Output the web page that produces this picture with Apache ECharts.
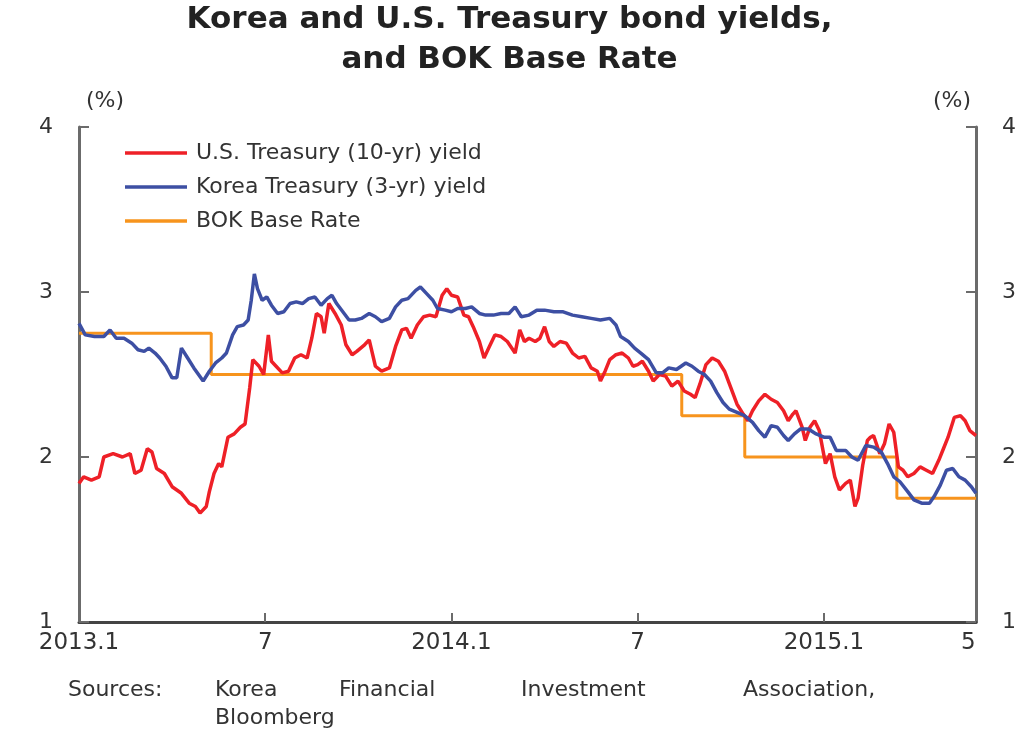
<!DOCTYPE html>
<html>
<head>
<meta charset="utf-8">
<script src="https://cdn.jsdelivr.net/npm/echarts@6/dist/echarts.min.js"></script>
<style>
html,body{margin:0;padding:0;background:#fff;}
#chart{width:1019px;height:732px;}
</style>
</head>
<body>
<div id="chart"></div>
<script>
// x positions are months since 2013-01-01 (0 = 2013.1, 12 = 2014.1, 24 = 2015.1)
const titleText = 'Korea and U.S. Treasury bond yields,\nand BOK Base Rate';
const seriesNames = ['U.S. Treasury (10-yr) yield', 'Korea Treasury (3-yr) yield', 'BOK Base Rate'];
const xTickMonths = [0, 6, 12, 18, 24];
const xLabelMonths = [0, 6, 12, 18, 24, 28.65];
const xLabelTexts = ['2013.1', '7', '2014.1', '7', '2015.1', '5'];
const yTicks = [1, 2, 3, 4];

const usMonths = [0,0.15,0.4,0.65,0.8,1.1,1.4,1.65,1.8,2.0,2.2,2.35,2.5,2.75,3.0,3.3,3.55,3.75,3.9,4.1,4.2,4.35,4.5,4.6,4.8,5.0,5.2,5.35,5.5,5.6,5.8,5.95,6.1,6.2,6.35,6.55,6.75,6.95,7.15,7.35,7.5,7.65,7.8,7.9,8.05,8.25,8.45,8.6,8.8,8.95,9.2,9.35,9.55,9.75,10.0,10.2,10.4,10.55,10.7,10.9,11.1,11.3,11.5,11.7,11.85,12.0,12.2,12.4,12.55,12.7,12.9,13.05,13.2,13.4,13.6,13.8,14.05,14.2,14.35,14.5,14.7,14.85,15.0,15.15,15.3,15.5,15.7,15.9,16.1,16.3,16.5,16.7,16.8,16.95,17.1,17.3,17.5,17.7,17.85,18.0,18.15,18.35,18.5,18.7,18.9,19.1,19.3,19.5,19.7,19.85,20.0,20.2,20.4,20.6,20.8,21.0,21.2,21.4,21.55,21.7,21.9,22.1,22.3,22.5,22.7,22.85,23.0,23.1,23.3,23.4,23.55,23.7,23.85,24.05,24.2,24.35,24.5,24.7,24.85,25.0,25.1,25.25,25.4,25.5,25.6,25.8,25.95,26.1,26.25,26.4,26.55,26.7,26.9,27.1,27.3,27.5,27.7,27.85,28.0,28.2,28.4,28.55,28.7,28.9];
const usValues = [1.84,1.88,1.86,1.88,2.00,2.02,2.00,2.02,1.90,1.92,2.05,2.03,1.93,1.90,1.82,1.78,1.72,1.70,1.66,1.70,1.79,1.90,1.96,1.94,2.12,2.14,2.18,2.20,2.42,2.59,2.55,2.50,2.74,2.58,2.55,2.51,2.52,2.60,2.62,2.60,2.72,2.87,2.85,2.75,2.93,2.87,2.80,2.68,2.62,2.64,2.68,2.71,2.55,2.52,2.54,2.67,2.77,2.78,2.72,2.80,2.85,2.86,2.85,2.98,3.02,2.98,2.97,2.86,2.85,2.79,2.70,2.60,2.66,2.74,2.73,2.70,2.63,2.77,2.70,2.72,2.70,2.72,2.79,2.70,2.67,2.70,2.69,2.63,2.60,2.61,2.54,2.52,2.46,2.52,2.59,2.62,2.63,2.60,2.55,2.56,2.58,2.52,2.46,2.50,2.49,2.43,2.46,2.40,2.38,2.36,2.44,2.56,2.60,2.58,2.52,2.42,2.32,2.26,2.22,2.28,2.34,2.38,2.35,2.33,2.28,2.22,2.26,2.28,2.18,2.10,2.18,2.22,2.16,1.96,2.02,1.88,1.80,1.84,1.86,1.70,1.75,1.95,2.10,2.12,2.13,2.02,2.08,2.20,2.15,1.94,1.92,1.88,1.90,1.94,1.92,1.90,1.98,2.05,2.12,2.24,2.25,2.22,2.16,2.13];

const krMonths = [0,0.2,0.5,0.8,1.0,1.2,1.45,1.7,1.9,2.1,2.25,2.45,2.6,2.8,3.0,3.15,3.3,3.5,3.7,3.85,4.0,4.2,4.4,4.6,4.75,4.95,5.1,5.3,5.45,5.55,5.65,5.75,5.9,6.05,6.2,6.4,6.6,6.8,7.0,7.2,7.4,7.6,7.8,8.0,8.15,8.3,8.5,8.7,8.9,9.1,9.35,9.55,9.75,10.0,10.2,10.4,10.6,10.85,11.0,11.2,11.4,11.55,11.8,12.0,12.2,12.45,12.65,12.9,13.1,13.35,13.6,13.85,14.05,14.25,14.5,14.75,15.0,15.3,15.6,15.9,16.2,16.5,16.8,17.1,17.3,17.45,17.7,17.9,18.1,18.35,18.6,18.8,19.0,19.25,19.55,19.75,19.95,20.15,20.35,20.55,20.75,20.95,21.2,21.45,21.7,21.9,22.1,22.3,22.5,22.7,22.85,23.05,23.25,23.5,23.75,24.0,24.2,24.4,24.7,24.9,25.1,25.35,25.6,25.85,26.05,26.25,26.45,26.7,26.9,27.15,27.4,27.55,27.75,27.95,28.15,28.35,28.55,28.75,28.9];
const krValues = [2.81,2.74,2.73,2.73,2.77,2.72,2.72,2.69,2.65,2.64,2.66,2.63,2.60,2.55,2.48,2.48,2.66,2.60,2.54,2.50,2.46,2.52,2.57,2.60,2.63,2.74,2.79,2.80,2.83,2.95,3.11,3.02,2.95,2.97,2.92,2.87,2.88,2.93,2.94,2.93,2.96,2.97,2.92,2.96,2.98,2.93,2.88,2.83,2.83,2.84,2.87,2.85,2.82,2.84,2.91,2.95,2.96,3.01,3.03,2.99,2.95,2.90,2.89,2.88,2.90,2.90,2.91,2.87,2.86,2.86,2.87,2.87,2.91,2.85,2.86,2.89,2.89,2.88,2.88,2.86,2.85,2.84,2.83,2.84,2.80,2.73,2.70,2.66,2.63,2.59,2.51,2.51,2.54,2.53,2.57,2.55,2.52,2.50,2.46,2.39,2.33,2.29,2.27,2.25,2.21,2.16,2.12,2.19,2.18,2.13,2.10,2.14,2.17,2.17,2.14,2.12,2.12,2.04,2.04,2.00,1.98,2.07,2.06,2.03,1.96,1.88,1.85,1.79,1.74,1.72,1.72,1.76,1.83,1.92,1.93,1.88,1.86,1.82,1.78];

const bokMonths = [0, 4.26, 19.42, 21.45, 26.35, 28.9];
const bokValues = [2.75, 2.50, 2.25, 2.00, 1.75, 1.75];

function zip(xs, ys) { return xs.map((x, i) => [x, ys[i]]); }

const FONT = 'DejaVu Sans';
const TXT = '#333333';
const AXIS = '#6b6b6b';

const chart = echarts.init(document.getElementById('chart'), null, {renderer: 'canvas'});

const yAxisCommon = {
  type: 'value', min: 1, max: 4, interval: 1,
  axisLine: {show: true, lineStyle: {color: AXIS, width: 3}},
  axisTick: {show: true, inside: true, length: 10, lineStyle: {color: AXIS, width: 2}},
  splitLine: {show: false},
  axisLabel: {fontFamily: FONT, fontSize: 22, color: TXT, margin: 26}
};

chart.setOption({
  animation: false,
  backgroundColor: '#ffffff',
  grid: {left: 79, right: 42, top: 127, height: 495, containLabel: false},
  xAxis: {
    type: 'value', min: 0, max: 28.9,
    axisLine: {show: true, onZero: false, lineStyle: {color: '#444', width: 3}},
    axisTick: {show: true, inside: true, length: 9, customValues: xTickMonths, lineStyle: {color: AXIS, width: 2}},
    axisLabel: {
      show: true, customValues: xLabelMonths, fontFamily: FONT, fontSize: 23, color: TXT, margin: 10,
      formatter: function (v) { const i = xLabelMonths.indexOf(v); return i >= 0 ? xLabelTexts[i] : ''; }
    },
    splitLine: {show: false}
  },
  yAxis: [
    Object.assign({}, yAxisCommon, {position: 'left'}),
    Object.assign({}, yAxisCommon, {position: 'right'})
  ],
  legend: {
    orient: 'vertical', left: 120, top: 137, icon: 'rect', itemWidth: 62, itemHeight: 3.5, itemGap: 12,
    data: seriesNames,
    textStyle: {fontFamily: FONT, fontSize: 22, color: TXT, lineHeight: 22, padding: [0, 0, 0, 4]}
  },
  series: [
    {name: seriesNames[0], type: 'line', yAxisIndex: 0, data: zip(usMonths, usValues), symbol: 'none',
     lineStyle: {color: '#ee2027', width: 3.5}, itemStyle: {color: '#ee2027'}, z: 3},
    {name: seriesNames[1], type: 'line', yAxisIndex: 0, data: zip(krMonths, krValues), symbol: 'none',
     lineStyle: {color: '#3d4fa3', width: 3.5}, itemStyle: {color: '#3d4fa3'}, z: 4},
    {name: seriesNames[2], type: 'line', yAxisIndex: 0, step: 'end', data: zip(bokMonths, bokValues), symbol: 'none',
     lineStyle: {color: '#f7941d', width: 3}, itemStyle: {color: '#f7941d'}, z: 2}
  ],
  graphic: [
    {type: 'text', left: 'center', top: 0, style: {text: titleText, x: 0, y: 0, textAlign: 'center', font: 'bold 31px "DejaVu Sans"', lineHeight: 40, fill: '#222'}},
    {type: 'text', x: 105, y: 101, style: {text: '(%)', textAlign: 'center', textVerticalAlign: 'middle', font: '22px "DejaVu Sans"', fill: TXT}},
    {type: 'text', x: 952, y: 101, style: {text: '(%)', textAlign: 'center', textVerticalAlign: 'middle', font: '22px "DejaVu Sans"', fill: TXT}},
    {type: 'text', x: 68, y: 690, style: {text: 'Sources:', textVerticalAlign: 'middle', font: '22px "DejaVu Sans"', fill: TXT}},
    {type: 'text', x: 215, y: 690, style: {text: 'Korea', textVerticalAlign: 'middle', font: '22px "DejaVu Sans"', fill: TXT}},
    {type: 'text', x: 339, y: 690, style: {text: 'Financial', textVerticalAlign: 'middle', font: '22px "DejaVu Sans"', fill: TXT}},
    {type: 'text', x: 521, y: 690, style: {text: 'Investment', textVerticalAlign: 'middle', font: '22px "DejaVu Sans"', fill: TXT}},
    {type: 'text', x: 743, y: 690, style: {text: 'Association,', textVerticalAlign: 'middle', font: '22px "DejaVu Sans"', fill: TXT}},
    {type: 'text', x: 215, y: 718, style: {text: 'Bloomberg', textVerticalAlign: 'middle', font: '22px "DejaVu Sans"', fill: TXT}}
  ]
});
</script>
</body>
</html>
